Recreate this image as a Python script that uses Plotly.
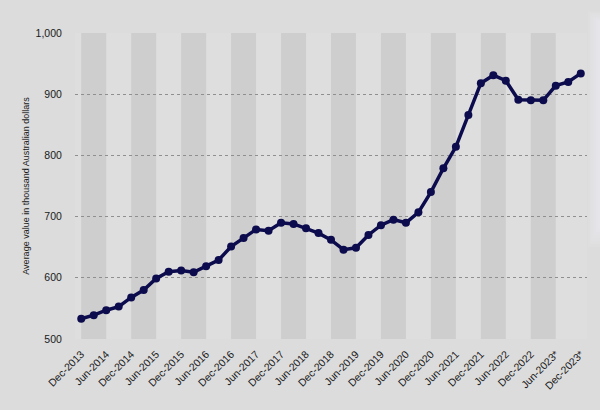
import plotly.graph_objects as go

quarters = [
    "Dec-2013", "Mar-2014", "Jun-2014", "Sep-2014", "Dec-2014", "Mar-2015", "Jun-2015", "Sep-2015",
    "Dec-2015", "Mar-2016", "Jun-2016", "Sep-2016", "Dec-2016", "Mar-2017", "Jun-2017", "Sep-2017",
    "Dec-2017", "Mar-2018", "Jun-2018", "Sep-2018", "Dec-2018", "Mar-2019", "Jun-2019", "Sep-2019",
    "Dec-2019", "Mar-2020", "Jun-2020", "Sep-2020", "Dec-2020", "Mar-2021", "Jun-2021", "Sep-2021",
    "Dec-2021", "Mar-2022", "Jun-2022", "Sep-2022", "Dec-2022", "Mar-2023", "Jun-2023*", "Sep-2023*",
    "Dec-2023*",
]
values = [
    533, 539, 547, 553, 568, 580, 599, 610,
    612, 609, 619, 629, 651, 665, 679, 677,
    690, 688, 681, 673, 662, 646, 649, 670,
    686, 695, 690, 707, 740, 779, 814, 866,
    918, 931, 922, 891, 890, 890, 914, 920,
    934,
]
y_ticks = [500, 600, 700, 800, 900, 1000]

x_idx = list(range(len(quarters)))
tick_idx = x_idx[::2]
tick_text = quarters[::2]

fig = go.Figure()
fig.add_trace(go.Scatter(
    x=x_idx, y=values, mode="lines+markers",
    line=dict(color="#0b0b4d", width=3.5),
    marker=dict(color="#0b0b4d", size=8),
    hoverinfo="skip", showlegend=False,
))

shapes = []
for i in range(0, len(quarters) - 1, 4):
    shapes.append(dict(type="rect", xref="x", yref="y", x0=i, x1=i + 2, y0=500, y1=1000,
                       fillcolor="#cecece", line=dict(width=0), layer="below"))

# soft light shadow on the right edge
for k in range(7):
    shapes.append(dict(type="rect", xref="paper", yref="paper",
                       x0=1.002 + 0.003 * k, x1=1.026, y0=0.3 + 0.01 * k, y1=1.07 - 0.005 * k,
                       fillcolor="#eef0f6", opacity=0.12, line=dict(width=0), layer="above"))

fig.update_layout(
    width=600, height=410,
    margin=dict(l=75, r=13, t=33, b=71),
    paper_bgcolor="#dcdcdc",
    plot_bgcolor="#dedede",
    font=dict(family="Liberation Sans, Arial, sans-serif", color="#1a1a1a", size=10),
    shapes=shapes,
    xaxis=dict(
        range=[-0.5, 40.5], tickmode="array", tickvals=tick_idx, ticktext=tick_text,
        tickangle=-45, showgrid=False, zeroline=False, showline=False,
        ticks="outside", ticklen=4, tickcolor="rgba(0,0,0,0)",
        tickfont=dict(size=10.5), automargin=False,
    ),
    yaxis=dict(
        range=[500, 1000], tickvals=y_ticks, tickformat=",",
        showgrid=True, gridcolor="#8f8f8f", griddash="dot", gridwidth=1,
        zeroline=False, showline=False,
        ticks="outside", ticklen=10, tickcolor="rgba(0,0,0,0)",
        tickfont=dict(size=10.5), automargin=False,
        title=dict(text="Average value in thousand Australian dollars", font=dict(size=9), standoff=4),
    ),
)

fig.write_html(
    "out.html",
    config={"displayModeBar": False, "staticPlot": True},
    post_script="document.body.style.margin='0';document.body.style.overflow='hidden';"
                "document.body.style.background='#dcdcdc';",
)
